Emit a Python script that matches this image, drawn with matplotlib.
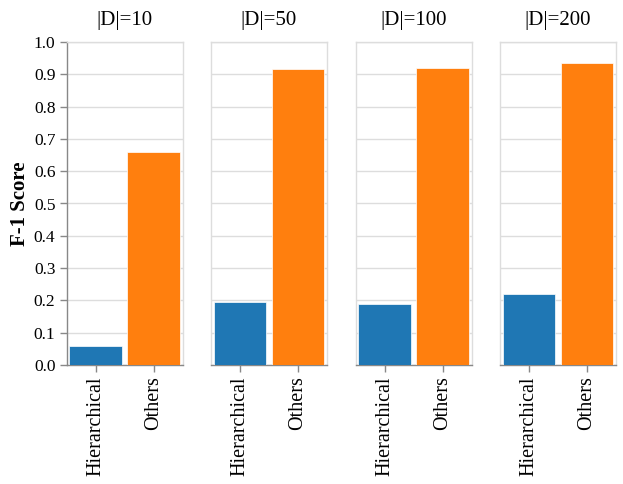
import matplotlib.pyplot as plt
import numpy as np

plt.rcParams['font.family'] = ['Liberation Serif', 'DejaVu Serif']

facets = ["|D|=10", "|D|=50", "|D|=100", "|D|=200"]
methods = ["Hierarchical", "Others"]
hier_f1 = [0.06, 0.194, 0.19, 0.221]
others_f1 = [0.659, 0.916, 0.918, 0.936]
colors = ["#1f77b4", "#ff7f0e"]
yticks = [0.0, 0.1, 0.2, 0.3, 0.4, 0.5, 0.6, 0.7, 0.8, 0.9, 1.0]

W, H = 623, 484
fig = plt.figure(figsize=(W / 100, H / 100), dpi=100)

panel_lefts = [66.5, 211, 355.5, 500]
pw, top, bottom = 116, 42, 365

for i, title in enumerate(facets):
    ax = fig.add_axes([panel_lefts[i] / W, (H - bottom) / H, pw / W, (bottom - top) / H])
    vals = [hier_f1[i], others_f1[i]]
    x = np.arange(len(methods))
    ax.bar(x, vals, width=0.91, color=colors, edgecolor="white", linewidth=0.5, zorder=3)
    ax.set_xlim(-0.5, 1.5)
    ax.set_ylim(0, 1.0)
    ax.set_yticks(yticks)
    ax.grid(axis="y", color="#dddddd", linewidth=1, zorder=0)
    ax.set_axisbelow(True)
    ax.set_xticks(x)
    ax.set_xticklabels(methods, rotation=90, fontsize=14.5)
    ax.tick_params(axis="x", length=5, width=1, color="#888888", pad=3)
    for s in ["top", "right", "left"]:
        ax.spines[s].set_color("#dddddd")
        ax.spines[s].set_linewidth(1)
    ax.spines["bottom"].set_color("#888888")
    ax.spines["bottom"].set_linewidth(1)
    if i == 0:
        ax.spines["left"].set_color("#888888")
        ax.set_yticklabels([f"{v:.1f}" for v in yticks], fontsize=12.5)
        ax.tick_params(axis="y", length=5, width=1, color="#888888", pad=3)
        ax.set_ylabel("F-1 Score", fontsize=15, fontweight="bold", labelpad=3)
    else:
        ax.tick_params(axis="y", left=False, labelleft=False)
    ax.set_title(title, fontsize=15, pad=12)

fig.savefig("out.png", dpi=100)
